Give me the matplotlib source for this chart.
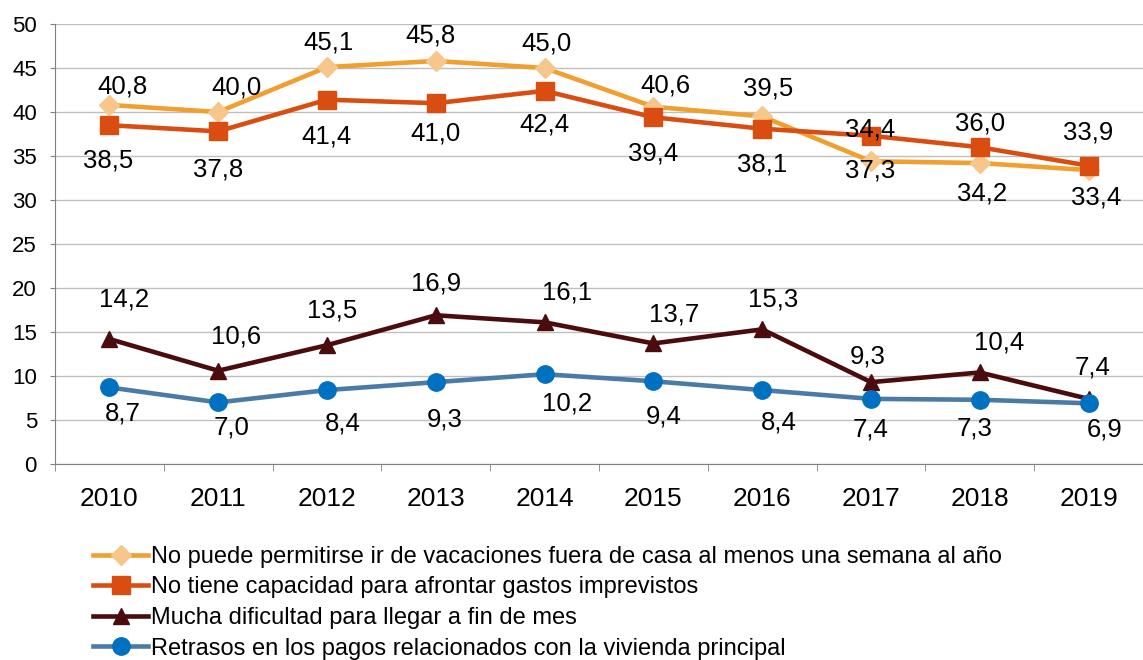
import matplotlib
matplotlib.use('Agg')
import matplotlib.pyplot as plt
import numpy as np

plt.rcParams['font.family'] = ['Liberation Sans', 'DejaVu Sans']

# Data
years = ['2010', '2011', '2012', '2013', '2014', '2015', '2016', '2017', '2018', '2019']
vacaciones = [40.8, 40.0, 45.1, 45.8, 45.0, 40.6, 39.5, 34.4, 34.2, 33.4]
imprevistos = [38.5, 37.8, 41.4, 41.0, 42.4, 39.4, 38.1, 37.3, 36.0, 33.9]
fin_de_mes = [14.2, 10.6, 13.5, 16.9, 16.1, 13.7, 15.3, 9.3, 10.4, 7.4]
retrasos = [8.7, 7.0, 8.4, 9.3, 10.2, 9.4, 8.4, 7.4, 7.3, 6.9]

series_names = [
    'No puede permitirse ir de vacaciones fuera de casa al menos una semana al año',
    'No tiene capacidad para afrontar gastos imprevistos',
    'Mucha dificultad para llegar a fin de mes',
    'Retrasos en los pagos relacionados con la vivienda principal',
]

# label offsets in pixels (dx, dy; dy positive = up)
dx_vac = [13, 18, 1, -5, 2, 12, 6, -1, 2, 8]
dy_vac = [18, 24, 25, 25, 24, 21, 28, 32, -30, -27]
dx_imp = [-1, 0, 0, 0, 0, 0, 0, -1, 0, 0]
dy_imp = [-35, -38, -37, -30, -34, -36, -36, -35, 24, 33]
dx_fin = [15, 18, 5, 0, 22, 21, 11, -3, 19, 4]
dy_fin = [40, 34, 35, 32, 30, 29, 30, 26, 30, 31]
dx_ret = [13, 13, 16, 9, 22, 10, 17, 0, -5, 16]
dy_ret = [-26, -25, -33, -37, -29, -35, -32, -31, -29, -26]

fig = plt.figure(figsize=(11.43, 6.6), dpi=100)
ax = fig.add_axes([55 / 1143, 1 - 464 / 660, 1 - 55 / 1143, (464 - 24) / 660])

x = np.arange(len(years))

styles = [
    dict(color='#F0A030', marker='D', markersize=10, markerfacecolor='#F7C68A',
         markeredgecolor='#F7C68A'),
    dict(color='#D94E10', marker='s', markersize=12.5, markerfacecolor='#D94E10',
         markeredgecolor='#D94E10'),
    dict(color='#4A0C0C', marker='^', markersize=12, markerfacecolor='#4A0C0C',
         markeredgecolor='#4A0C0C'),
    dict(color='#4A7BA7', marker='o', markersize=12.5, markerfacecolor='#0070C0',
         markeredgecolor='#0070C0'),
]

all_series = [vacaciones, imprevistos, fin_de_mes, retrasos]
all_dx = [dx_vac, dx_imp, dx_fin, dx_ret]
all_dy = [dy_vac, dy_imp, dy_fin, dy_ret]

for vals, name, st in zip(all_series, series_names, styles):
    ax.plot(x, vals, linewidth=3.3, label=name, zorder=3, **st)

for vals, dxs, dys in zip(all_series, all_dx, all_dy):
    for xi, v, dx, dy in zip(x, vals, dxs, dys):
        ax.annotate(f'{v:.1f}'.replace('.', ','), (xi, v), xytext=(dx, dy),
                    textcoords='offset pixels', ha='center', va='center',
                    fontsize=18.5, color='black', zorder=4)

ax.set_xlim(-0.5, len(years) - 0.5)
ax.set_ylim(0, 50)
ax.set_yticks(range(0, 51, 5))
ax.set_xticks(x)
ax.set_xticklabels(years)
ax.set_xticks(np.arange(-0.5, len(years), 1), minor=True)
ax.tick_params(axis='x', which='major', length=0, labelsize=19, pad=16.5)
ax.tick_params(axis='x', which='minor', length=5, color='#808080')
ax.tick_params(axis='y', length=3.6, color='#808080', labelsize=16, pad=9.4)

ax.grid(axis='y', color='#BFBFBF', linewidth=1)
ax.set_axisbelow(True)
for s in ['top', 'right']:
    ax.spines[s].set_visible(False)
ax.spines['left'].set_color('#808080')
ax.spines['bottom'].set_color('#808080')

fig.legend(loc='upper left', bbox_to_anchor=(93 / 1143, 1 - 546 / 660),
           frameon=False, fontsize=17, handlelength=2.35, handletextpad=0.1,
           labelspacing=0.36, borderaxespad=0, borderpad=0)

fig.savefig('out.png', dpi=100)
